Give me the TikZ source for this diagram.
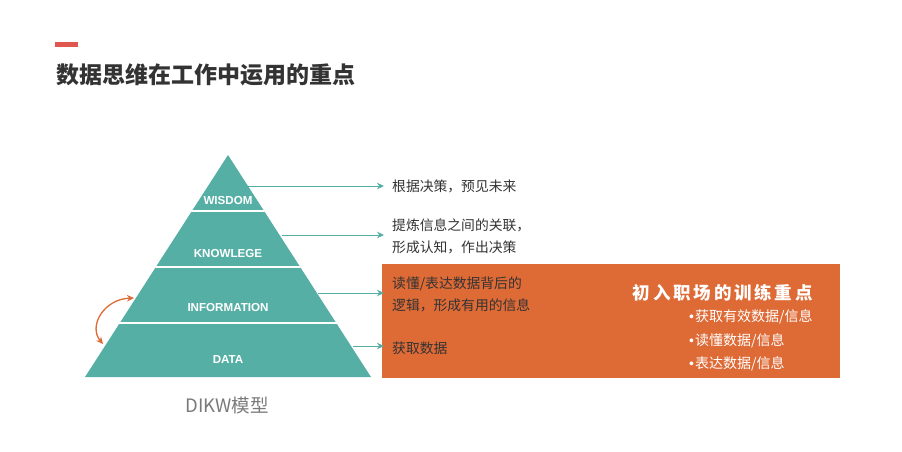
\documentclass[tikz,border=0pt]{standalone}
\usepackage{fontspec}
\setmainfont{Liberation Sans}
\newfontfamily\cjk{Noto Sans CJK SC}
\newfontfamily\cjkspaced{Noto Sans CJK SC}[LetterSpace=16]
\newfontfamily\lab{Liberation Sans}
\usetikzlibrary{arrows.meta}
\definecolor{teal1}{HTML}{55AFA5}
\definecolor{orng}{HTML}{DE6A36}
\definecolor{redbar}{HTML}{E0574F}
\definecolor{dark}{HTML}{333333}
\definecolor{gry}{HTML}{7A7A7A}
\tikzset{
  band/.style={font=\lab\bfseries\fontsize{11.6}{13}\selectfont, text=white, inner sep=0pt},
  desc/.style={font=\cjk\fontsize{13.8}{22}\selectfont, text=dark, anchor=west, inner sep=0pt, align=left},
  bul/.style={font=\cjk\fontsize{14}{16}\selectfont, text=white, anchor=west, inner sep=0pt},
  tarrow/.style={draw=teal1, line width=1pt, -{Stealth[length=7pt,width=6.5pt]}},
  oarrow/.style={draw=orng, line width=1.3pt, {Stealth[length=7pt,width=6.5pt]}-{Stealth[length=7pt,width=6.5pt]}},
}
\begin{document}
\begin{tikzpicture}[x=1pt,y=-1pt]
\useasboundingbox[fill=white] (0,0) rectangle (902,451);
% title
\fill[redbar] (55,41.5) rectangle (78,46.5);
\node[font=\cjk\bfseries\fontsize{23}{25}\selectfont, text=dark, anchor=west, inner sep=0pt] (title) at (56,75) {数据思维在工作中运用的重点};
% pyramid
\coordinate (apex) at (228,155);
\coordinate (bl) at (85,377);
\coordinate (br) at (371,377);
\fill[teal1] (apex) -- (br) -- (bl) -- cycle;
\draw[white, line width=2pt] (150,211) -- (310,211);
\draw[white, line width=2pt] (110,267) -- (350,267);
\draw[white, line width=2pt] (80,323) -- (380,323);
\node[band] (wis) at (228,200) {WISDOM};
\node[band] (kno) at (228,253) {KNOWLEGE};
\node[band] (inf) at (228,307) {INFORMATION};
\node[band] (dat) at (228,360) {DATA};
\node[font=\cjk\fontsize{18.5}{20}\selectfont, text=gry, inner sep=0pt] (dikw) at (227,405) {DIKW模型};
% orange box
\fill[orng] (382,264) rectangle (840,378);
% descriptions
\node[desc] (t1) at (392,186) {根据决策，预见未来};
\node[desc] (t2) at (392,236) {提炼信息之间的关联，\\形成认知，作出决策};
\node[desc] (t3) at (392,294) {读懂/表达数据背后的\\逻辑，形成有用的信息};
\node[desc] (t4) at (392,348) {获取数据};
% arrows
\coordinate (e1) at (248,186);
\coordinate (e2) at (282,235);
\coordinate (e3) at (318,293);
\coordinate (e4) at (353,346);
\coordinate (a1) at (384,186);
\coordinate (a2) at (384,235);
\coordinate (a3) at (384,293);
\coordinate (a4) at (384,346);
\draw[tarrow] (e1) -- (a1);
\draw[tarrow] (e2) -- (a2);
\draw[tarrow] (e3) -- (a3);
\draw[tarrow] (e4) -- (a4);
% curved arrow
\coordinate (c1) at (134,298);
\coordinate (c2) at (103,344);
\draw[oarrow] (c1) .. controls (104,299) and (88,326) .. (c2);
% training focus
\node[font=\cjkspaced\bfseries\fontsize{17.5}{19}\selectfont, text=white, anchor=east, inner sep=0pt] (focus) at (813,293) {初入职场的训练重点};
\node[bul] (b1) at (689,317) {{\lab•}\kern1pt获取有效数据/信息};
\node[bul] (b2) at (689,341) {{\lab•}\kern1pt读懂数据/信息};
\node[bul] (b3) at (689,364) {{\lab•}\kern1pt表达数据/信息};
\end{tikzpicture}
\end{document}
